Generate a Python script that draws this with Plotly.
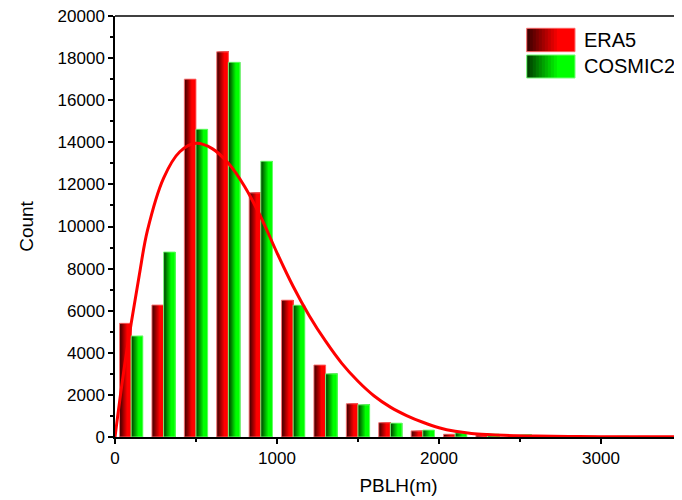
import plotly.graph_objects as go

# ---------------- data ----------------
bin_centers = [100, 300, 500, 700, 900, 1100, 1300, 1500, 1700, 1900, 2100,
               2300, 2500, 2700, 2900, 3100, 3300, 3500]
era5_counts = [5400, 6270, 17000, 18300, 11600, 6500, 3420, 1580, 680, 290, 130,
               90, 95, 60, 40, 30, 30, 20]
cosmic2_counts = [4800, 8790, 14620, 17800, 13100, 6260, 3000, 1530, 660, 330, 200,
                  140, 100, 60, 40, 40, 15, 10]

fit_x = [0, 50, 100, 150, 200, 300, 400, 500, 600, 700, 800, 900, 1000, 1100,
         1200, 1300, 1400, 1500, 1600, 1700, 1800, 1900, 2000, 2100, 2200, 2300,
         2400, 2600, 2800, 3000, 3500]
fit_y = [0, 2900, 5400, 7700, 9800, 12300, 13550, 13950, 13700, 13000, 11900,
         10450, 8750, 7150, 5750, 4550, 3500, 2650, 1950, 1420, 1020, 700, 440,
         270, 170, 115, 80, 45, 25, 15, 5]

x_ticks = [0, 1000, 2000, 3000]
series_names = ["ERA5", "COSMIC2"]

# ---------------- styling helpers ----------------
BAR_W = 72
N_STRIPS = 10


def grad_color(base, t):
    # t in [0,1]: dark at left -> bright at ~65% width
    k = min(t / 0.65, 1.0)
    lo = 0.22
    f = lo + (1 - lo) * k
    return "rgb(%d,%d,%d)" % tuple(int(c * f) for c in base)


def add_gradient_bars(fig, xs, ys, base, side, outline):
    start = -BAR_W if side == "left" else 0
    for i in range(N_STRIPS):
        frac = i / N_STRIPS
        fig.add_trace(go.Bar(
            x=xs, y=ys,
            offset=start + frac * BAR_W,
            width=BAR_W * (1 - frac),
            marker=dict(color=grad_color(base, (i + 0.5) / N_STRIPS), line=dict(width=0)),
            showlegend=False, hoverinfo="skip",
        ))
    fig.add_trace(go.Bar(
        x=xs, y=ys, offset=start, width=BAR_W,
        marker=dict(color="rgba(0,0,0,0)", line=dict(width=1, color=outline)),
        showlegend=False, hoverinfo="skip",
    ))


fig = go.Figure()
add_gradient_bars(fig, bin_centers, era5_counts, (255, 0, 0), "left", "rgba(255,110,110,0.9)")
fig.add_trace(go.Scatter(x=fit_x, y=fit_y, mode="lines", line=dict(color="#ff0000", width=3, shape="spline"),
                         showlegend=False, hoverinfo="skip"))
add_gradient_bars(fig, bin_centers, cosmic2_counts, (0, 255, 0), "right", "rgba(120,255,120,0.9)")

# ---------------- custom legend with gradient swatches ----------------
shapes = [dict(type="line", xref="paper", yref="paper", x0=0, x1=1, y0=1, y1=1,
               line=dict(color="black", width=1.5), layer="above")]
annotations = []
legend_items = [(series_names[0], (255, 0, 0), "rgba(255,110,110,1)", 0.9708, 0.9153),
                (series_names[1], (0, 255, 0), "rgba(120,255,120,1)", 0.9074, 0.8527)]
sx0, sx1 = 0.7261, 0.8113
for name, base, outline, y1, y0 in legend_items:
    n = 16
    for i in range(n):
        frac = i / n
        shapes.append(dict(type="rect", xref="paper", yref="paper",
                           x0=sx0 + frac * (sx1 - sx0), x1=sx1, y0=y0, y1=y1,
                           fillcolor=grad_color(base, (i + 0.5) / n), line=dict(width=0), layer="above"))
    shapes.append(dict(type="rect", xref="paper", yref="paper", x0=sx0, x1=sx1, y0=y0, y1=y1,
                       fillcolor="rgba(0,0,0,0)", line=dict(width=1, color=outline), layer="above"))
    annotations.append(dict(text=name, xref="paper", yref="paper", x=0.823, y=(y0 + y1) / 2,
                            xanchor="left", yanchor="middle", showarrow=False,
                            font=dict(family="Liberation Sans, Arial, sans-serif", size=20, color="black")))

axis_font = dict(family="Liberation Sans, Arial, sans-serif", size=17, color="black")
title_font = dict(family="Liberation Sans, Arial, sans-serif", size=19, color="black")

# page body has an 8px default margin, so the figure is sized to end at the window edge
fig.update_layout(
    width=674, height=492,
    margin=dict(l=107, r=0, t=8, b=63, autoexpand=False),
    barmode="overlay",
    plot_bgcolor="white", paper_bgcolor="white",
    showlegend=False,
    shapes=shapes, annotations=annotations,
    xaxis=dict(range=[0, 3500], tickvals=x_ticks, ticks="outside", ticklen=5, tickwidth=1.5,
               tickcolor="black", showline=True, linecolor="black", linewidth=1.5,
               showgrid=False, zeroline=False, tickfont=axis_font, automargin=False,
               ticklabeloverflow="allow",
               minor=dict(dtick=500, ticks="outside", ticklen=3, tickcolor="black", tickwidth=1.5, showgrid=False),
               title=dict(text="PBLH(m)", font=title_font, standoff=12)),
    yaxis=dict(range=[0, 20000], dtick=2000, tickformat="d", ticks="outside", ticklen=5, tickwidth=1.5,
               tickcolor="black", showline=True, linecolor="black", linewidth=1.5,
               showgrid=False, zeroline=False, tickfont=axis_font, automargin=False,
               ticklabeloverflow="allow",
               minor=dict(dtick=1000, ticks="outside", ticklen=3, tickcolor="black", tickwidth=1.5, showgrid=False),
               title=dict(text="Count", font=title_font, standoff=19)),
)

fig.write_html("out.html")
